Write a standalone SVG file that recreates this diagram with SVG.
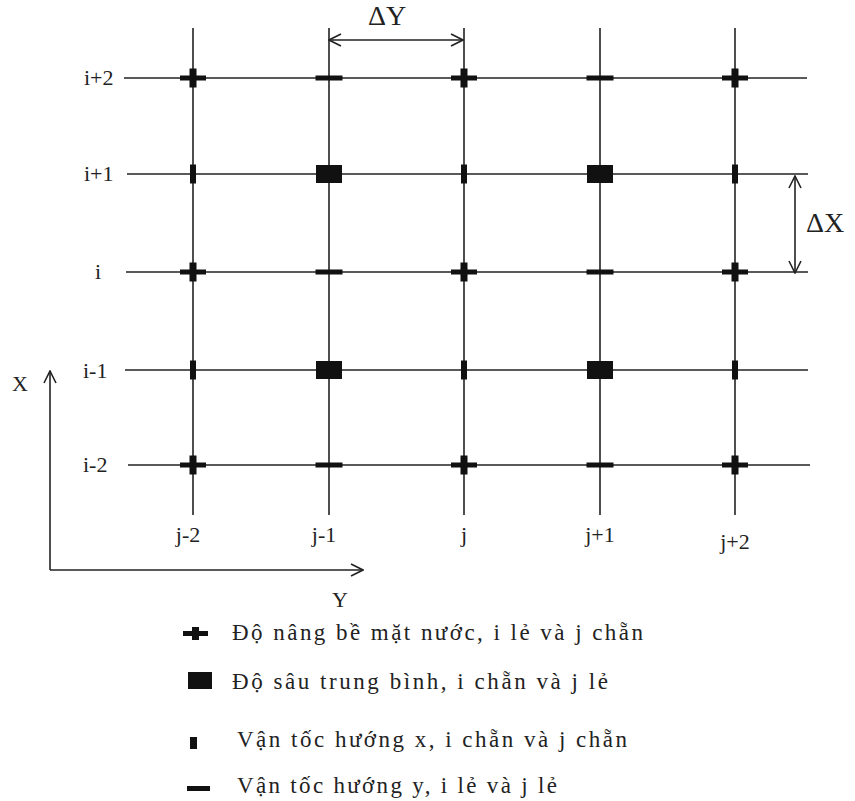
<svg xmlns="http://www.w3.org/2000/svg" width="855" height="801" viewBox="0 0 855 801">
<style>
.grid{stroke:#222;stroke-width:1.6;fill:none}
.ax{stroke:#222;stroke-width:1.6;fill:none}
.m{fill:#111}
.lbl{font-family:"Liberation Serif","Times New Roman",serif;font-size:22px;fill:#222}
.big{font-family:"Liberation Serif","Times New Roman",serif;font-size:28px;fill:#222}
.leg{font-family:"Liberation Serif","Times New Roman",serif;font-size:23px;fill:#222}
</style>
<defs>
<marker id="chev" viewBox="0 0 14 14" refX="13" refY="7" markerWidth="14" markerHeight="14" markerUnits="userSpaceOnUse" orient="auto-start-reverse">
<path d="M1,1 L13,7 L1,13" fill="none" stroke="#222" stroke-width="1.6"/>
</marker>
<g id="plus"><rect x="-13" y="-2.5" width="26" height="5"/><rect x="-3.5" y="-9.5" width="7" height="19"/></g>
<rect id="sq" x="-13" y="-9" width="26" height="18"/>
<rect id="vb" x="-3" y="-9.5" width="6" height="19"/>
<rect id="hb" x="-13.5" y="-2.5" width="27" height="5"/>
</defs>
<rect width="855" height="801" fill="#fff"/>

<g id="connectors">
<g class="grid">
<line x1="193" y1="28" x2="193" y2="515"/>
<line x1="329" y1="28" x2="329" y2="515"/>
<line x1="464" y1="28" x2="464" y2="515"/>
<line x1="600" y1="28" x2="600" y2="515"/>
<line x1="735" y1="28" x2="735" y2="515"/>
<line x1="124" y1="78" x2="807" y2="78"/>
<line x1="127" y1="174" x2="808" y2="174"/>
<line x1="126" y1="272" x2="808" y2="272"/>
<line x1="125" y1="370" x2="808" y2="370"/>
<line x1="128" y1="465" x2="810" y2="465"/>
</g>
<line class="ax" x1="329" y1="40" x2="463" y2="40" marker-start="url(#chev)" marker-end="url(#chev)"/>
<line class="ax" x1="795" y1="176" x2="795" y2="273" marker-start="url(#chev)" marker-end="url(#chev)"/>
<line class="ax" x1="50" y1="570" x2="50" y2="371" marker-end="url(#chev)"/>
<line class="ax" x1="50" y1="570" x2="363" y2="570" marker-end="url(#chev)"/>
</g>

<g id="markers" class="m">
<use href="#plus" x="193" y="78"/><use href="#hb" x="329" y="78"/><use href="#plus" x="464" y="78"/><use href="#hb" x="600" y="78"/><use href="#plus" x="735" y="78"/>
<use href="#vb" x="193" y="174"/><use href="#sq" x="329" y="174"/><use href="#vb" x="464" y="174"/><use href="#sq" x="600" y="174"/><use href="#vb" x="735" y="174"/>
<use href="#plus" x="193" y="272"/><use href="#hb" x="329" y="272"/><use href="#plus" x="464" y="272"/><use href="#hb" x="600" y="272"/><use href="#plus" x="735" y="272"/>
<use href="#vb" x="193" y="370"/><use href="#sq" x="329" y="370"/><use href="#vb" x="464" y="370"/><use href="#sq" x="600" y="370"/><use href="#vb" x="735" y="370"/>
<use href="#plus" x="193" y="465"/><use href="#hb" x="329" y="465"/><use href="#plus" x="464" y="465"/><use href="#hb" x="600" y="465"/><use href="#plus" x="735" y="465"/>
</g>

<g id="row-labels" class="lbl">
<text x="84" y="85">i+2</text>
<text x="84" y="181">i+1</text>
<text x="95" y="279">i</text>
<text x="83" y="378">i-1</text>
<text x="83" y="472">i-2</text>
</g>
<g id="col-labels" class="lbl" text-anchor="middle">
<text x="188" y="542">j-2</text>
<text x="324" y="542">j-1</text>
<text x="464" y="542">j</text>
<text x="600" y="542">j+1</text>
<text x="735" y="549">j+2</text>
</g>
<g id="dims" class="big">
<text x="368" y="25">ΔY</text>
<text x="806" y="232">ΔX</text>
</g>
<g id="axis-labels" class="lbl">
<text x="12" y="391">X</text>
<text x="332" y="607">Y</text>
</g>

<g id="legend">
<g class="m">
<rect x="183" y="631" width="25" height="5"/><rect x="192" y="627" width="7" height="13"/>
<rect x="188" y="672" width="24" height="17"/>
<rect x="190" y="737" width="7" height="12"/>
<rect x="187" y="786" width="23" height="5"/>
</g>
<g class="leg">
<text x="232" y="640" textLength="411" lengthAdjust="spacing">Độ nâng bề mặt nước, i lẻ và j chẵn</text>
<text x="232" y="689" textLength="376" lengthAdjust="spacing">Độ sâu trung bình, i chẵn và j lẻ</text>
<text x="237" y="747" textLength="390" lengthAdjust="spacing">Vận tốc hướng x, i chẵn và j chẵn</text>
<text x="237" y="793" textLength="320" lengthAdjust="spacing">Vận tốc hướng y, i lẻ và j lẻ</text>
</g>
</g>
</svg>
